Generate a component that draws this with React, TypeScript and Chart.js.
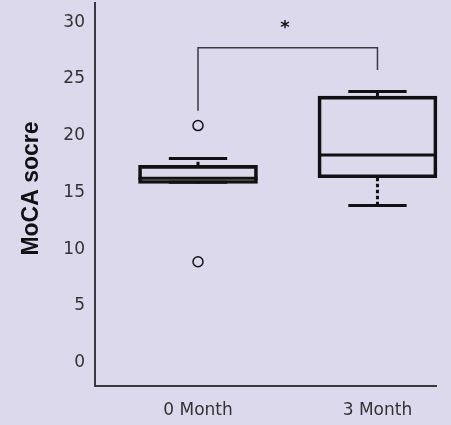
import { useEffect, useRef } from 'react';
import { Chart, registerables } from 'chart.js';

Chart.register(...registerables);

// ---- data ----
const categories = ['0 Month', '3 Month'];
const positions = [1, 2];
const q1 = [15.8, 16.3];
const q3 = [17.4, 23.5];
const medians = [16.25, 18.3];
const whiskerLow = [15.9, 13.85];
const whiskerHigh = [18.0, 23.9];
const outlierX = [1, 1];
const outlierY = [20.9, 8.9];
const yTicks = [0, 5, 10, 15, 20, 25, 30];
const bracketX = [1, 2];
const bracketLegBottoms = [22.2, 25.8];
const bracketTop = 27.75;
const sigLabel = '*';
const sigPos = { x: 1.485, y: 29.5 };
const yTitle = 'MoCA socre';

const BG = '#dcd9ec';
const INK = '#111111';
const AXIS = '#3a3a3a';

const bgPlugin = {
  id: 'bgFill',
  beforeDraw(chart: any) {
    const { ctx, width, height } = chart;
    ctx.save();
    ctx.fillStyle = BG;
    ctx.fillRect(0, 0, width, height);
    ctx.restore();
  },
};

const boxPlugin = {
  id: 'boxExtras',
  afterDatasetsDraw(chart: any) {
    const xs = chart.scales.x;
    const ys = chart.scales.y;
    const ctx = chart.ctx;
    const meta = chart.getDatasetMeta(0);
    ctx.save();
    ctx.strokeStyle = INK;
    positions.forEach((p, i) => {
      const cx = xs.getPixelForValue(p);
      const bar = meta.data[i];
      const half = bar.width / 2;
      const capHalf = half * 0.49;
      ctx.lineWidth = 3;
      ctx.setLineDash([]);
      // median
      const my = ys.getPixelForValue(medians[i]);
      ctx.beginPath();
      ctx.moveTo(cx - half, my);
      ctx.lineTo(cx + half, my);
      ctx.stroke();
      // whisker caps
      const hy = ys.getPixelForValue(whiskerHigh[i]);
      const ly = ys.getPixelForValue(whiskerLow[i]);
      ctx.beginPath();
      ctx.moveTo(cx - capHalf, hy);
      ctx.lineTo(cx + capHalf, hy);
      ctx.moveTo(cx - capHalf, ly);
      ctx.lineTo(cx + capHalf, ly);
      ctx.stroke();
      // dotted whiskers
      ctx.setLineDash([3.5, 2.5]);
      const t = ys.getPixelForValue(q3[i]);
      const b = ys.getPixelForValue(q1[i]);
      ctx.beginPath();
      ctx.moveTo(cx, t);
      ctx.lineTo(cx, hy);
      ctx.moveTo(cx, b);
      ctx.lineTo(cx, ly);
      ctx.stroke();
    });
    ctx.setLineDash([]);
    // significance bracket
    ctx.strokeStyle = AXIS;
    ctx.lineWidth = 1.5;
    const x0 = xs.getPixelForValue(bracketX[0]);
    const x1 = xs.getPixelForValue(bracketX[1]);
    const yt = ys.getPixelForValue(bracketTop);
    ctx.beginPath();
    ctx.moveTo(x0, ys.getPixelForValue(bracketLegBottoms[0]));
    ctx.lineTo(x0, yt);
    ctx.lineTo(x1, yt);
    ctx.lineTo(x1, ys.getPixelForValue(bracketLegBottoms[1]));
    ctx.stroke();
    ctx.fillStyle = INK;
    ctx.font = 'bold 18px "DejaVu Sans"';
    ctx.textAlign = 'center';
    ctx.textBaseline = 'middle';
    ctx.fillText(sigLabel, xs.getPixelForValue(sigPos.x), ys.getPixelForValue(sigPos.y));
    // y-axis title
    ctx.translate(32, 188.5);
    ctx.rotate(-Math.PI / 2);
    ctx.font = 'bold 23px "Liberation Sans"';
    ctx.fillStyle = INK;
    ctx.textAlign = 'center';
    ctx.textBaseline = 'middle';
    ctx.fillText(yTitle, 0, 0);
    ctx.restore();
  },
};

export default function App() {
  const ref = useRef<HTMLCanvasElement | null>(null);

  useEffect(() => {
    document.body.style.margin = '0';
    document.body.style.background = BG;
    const canvas = ref.current;
    if (!canvas) return;
    const chart = new Chart(canvas, {
      type: 'bar',
      data: {
        datasets: [
          {
            type: 'bar',
            data: positions.map((p, i) => ({ x: p, y: [q1[i], q3[i]] })) as any,
            backgroundColor: 'rgba(0,0,0,0)',
            borderColor: INK,
            borderWidth: 3,
            borderSkipped: false,
            barThickness: 119,
            clip: false as any,
          },
          {
            type: 'scatter',
            data: outlierX.map((x, i) => ({ x, y: outlierY[i] })),
            pointRadius: 5,
            pointBorderWidth: 1.5,
            pointBorderColor: INK,
            pointBackgroundColor: BG,
          } as any,
        ],
      },
      options: {
        responsive: false,
        animation: false,
        events: [],
        layout: { autoPadding: false, padding: { top: 3, right: 14.5, left: 0, bottom: 0 } },
        plugins: { legend: { display: false }, tooltip: { enabled: false } },
        scales: {
          x: {
            type: 'linear',
            offset: false,
            min: 0.426,
            max: 2.329,
            grid: { display: false, drawTicks: false, tickLength: 0, offset: false },
            border: { display: true, color: AXIS, width: 2 },
            afterBuildTicks: (s: any) => {
              s.ticks = positions.map((v) => ({ value: v }));
            },
            afterFit: (s: any) => {
              s.height = 39.5;
              s.paddingLeft = 0;
              s.paddingRight = 0;
            },
            ticks: {
              padding: 15,
              color: '#333',
              font: { family: '"DejaVu Sans"', size: 17 },
              maxRotation: 0,
              autoSkip: false,
              callback: (_v: any, idx: number) => categories[idx],
            },
          },
          y: {
            type: 'linear',
            min: -2,
            max: 31.7,
            grid: { display: false, drawTicks: false, tickLength: 0 },
            border: { display: true, color: AXIS, width: 2 },
            afterBuildTicks: (s: any) => {
              s.ticks = yTicks.map((v) => ({ value: v }));
            },
            afterFit: (s: any) => {
              s.width = 95;
              s.paddingTop = 0;
              s.paddingBottom = 0;
            },
            ticks: {
              padding: 10,
              color: '#333',
              font: { family: '"DejaVu Sans"', size: 17 },
            },
          },
        },
      },
      plugins: [bgPlugin, boxPlugin],
    } as any);
    return () => chart.destroy();
  }, []);

  return (
    <div style={{ position: 'absolute', left: 0, top: 0, width: 451, height: 425 }}>
      <canvas ref={ref} width={451} height={425} />
    </div>
  );
}
